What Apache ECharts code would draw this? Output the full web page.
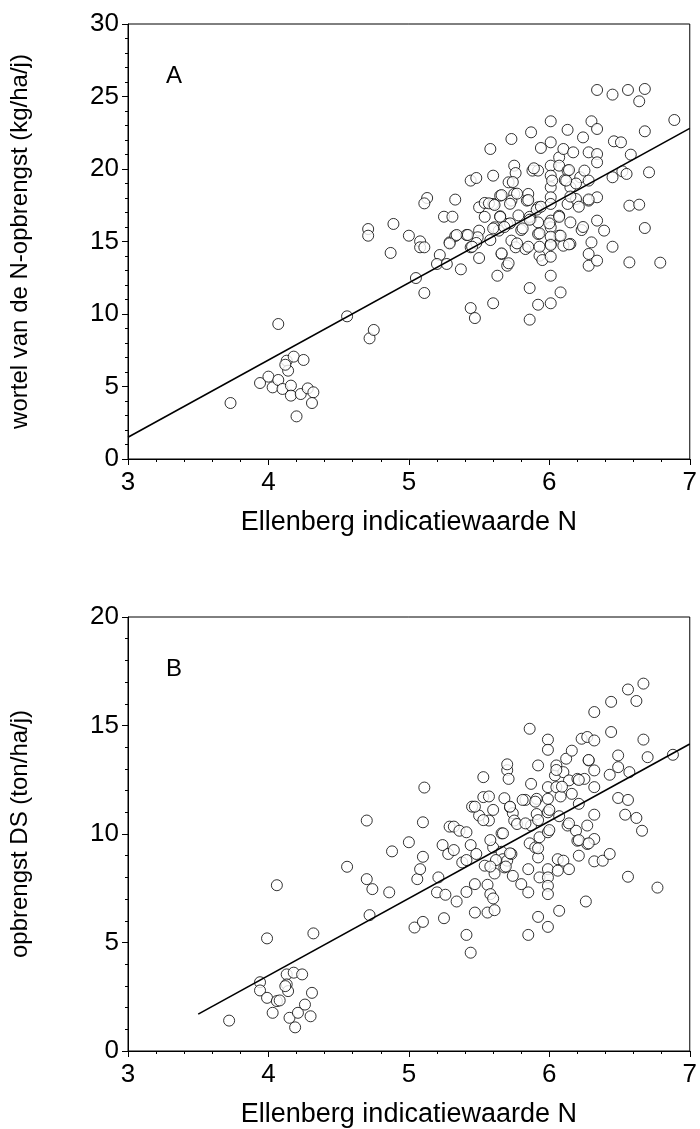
<!DOCTYPE html>
<html>
<head>
<meta charset="utf-8">
<script src="https://cdn.jsdelivr.net/npm/echarts@6/dist/echarts.min.js"></script>
<style>
html,body{margin:0;padding:0;background:#fff;}
#chart{width:700px;height:1129px;}
</style>
</head>
<body>
<div id="chart"></div>
<script>
// Panel A: Ellenberg N vs wortel van de N-opbrengst
const panelA_points = [
[3.73,3.86],[4.07,9.31],[3.94,5.24],[4.00,5.68],[4.03,4.94],[4.07,5.45],[4.10,4.83],[4.13,6.78],[4.14,6.09],[4.16,5.06],
[4.16,4.37],[4.18,7.06],[4.20,2.94],[4.23,4.48],[4.25,6.83],[4.28,4.87],[4.32,4.60],[4.31,3.86],[4.12,6.5],
[4.56,9.84],[4.72,8.32],[4.75,8.90],[4.71,15.86],[4.71,15.40],[4.89,16.21],[4.87,14.21],[5.00,15.40],[5.05,12.48],[5.11,11.45],
[5.08,15.01],[5.08,14.60],[5.11,14.60],[5.13,18.0],[5.11,17.63],[5.22,14.07],[5.20,13.45],[5.27,13.45],[5.25,16.71],[5.31,16.71],
[5.33,17.89],[5.29,14.94],[5.33,15.38],[5.37,13.08],[5.41,15.45],[5.44,14.60],[5.44,19.2],[5.48,19.38],[5.44,10.41],[5.47,9.72],
[5.50,17.36],[5.50,15.75],[5.50,13.86],[5.49,15.29],[5.54,17.66],[5.58,21.38],[5.60,19.54],[5.60,17.59],[5.60,10.74],[5.61,15.98],
[5.63,12.64],[5.64,15.75],[5.65,16.74],[5.65,18.16],[5.66,14.14],[5.70,13.33],[5.70,16.21],[5.71,19.08],[5.73,22.07],[5.75,20.23],
[5.76,19.72],[5.75,18.28],[5.73,17.82],[5.73,15.06],[5.76,14.60],[5.80,15.79],[5.83,14.48],[5.85,18.28],[5.84,17.82],[5.87,22.53],
[5.86,11.79],[5.86,9.61],[5.88,19.89],[5.92,19.89],[5.94,21.45],[5.92,17.36],[5.87,16.55],[5.92,16.32],[5.92,15.52],[5.93,14.02],
[5.92,10.64],[5.95,13.72],[6.01,23.29],[6.01,21.84],[6.01,20.23],[6.01,19.54],[6.01,18.74],[6.01,18.05],[6.01,17.59],[6.01,16.44],
[6.01,15.98],[6.01,14.83],[6.01,13.95],[6.01,12.64],[6.01,10.74],[6.07,20.80],[6.07,20.23],[6.07,16.78],[6.07,15.40],[6.08,11.49],
[6.11,19.24],[6.10,21.38],[6.13,19.89],[6.13,22.70],[6.13,17.59],[6.15,16.32],[6.15,18.74],[6.17,21.15],[6.15,14.83],[6.10,14.71],
[6.19,17.93],[6.22,19.43],[6.23,15.79],[6.24,22.18],[6.25,19.89],[6.28,21.15],[6.28,19.20],[6.28,17.82],[6.28,14.14],[6.28,13.33],
[6.30,23.29],[6.30,14.94],[6.34,25.45],[6.34,22.76],[6.34,21.03],[6.34,20.46],[6.34,18.05],[6.34,16.44],[6.34,13.68],[6.39,15.75],
[6.45,25.13],[6.45,19.43],[6.45,14.64],[6.46,21.91],[6.51,21.84],[6.52,19.84],[6.55,19.66],[6.58,20.99],[6.56,25.45],[6.57,17.47],
[6.57,13.56],[6.64,17.54],[6.64,24.67],[6.68,25.52],[6.68,22.60],[6.68,15.93],[6.71,19.77],[6.79,13.54],[6.89,23.38],
[5.57,17.63],[5.61,17.52],[5.54,16.7],[5.60,15.90],[5.65,16.7],[5.66,18.2],[5.72,17.6],[5.72,16.25],[5.77,18.3],[5.78,16.8],
[5.81,15.9],[5.85,17.86],[5.86,16.7],[5.91,17.2],[5.93,15.56],[5.93,14.64],[5.94,17.4],[6.00,16.25],[6.01,15.33],[6.01,14.76],
[6.07,16.7],[6.08,15.4],[6.14,19.93],[6.14,14.8],[6.15,18.1],[6.19,19.0],[6.21,17.4],[6.24,16.0],[6.28,17.9],[5.58,15.1],
[5.66,14.18],[5.71,13.5],[5.48,14.9],[5.42,15.45],[5.45,14.64],[5.77,14.87],[5.85,14.64],[5.34,15.45],[5.29,14.87],[5.74,19.1],
[5.89,20.05],[6.02,19.2],[6.12,19.2],[5.86,16.5],[5.68,16.0]
];
const panelA_fit = [[3.0,1.5],[7.0,22.8]];

// Panel B: Ellenberg N vs opbrengst DS
const panelB_points = [
[3.72,1.40],[3.94,3.17],[3.94,2.79],[3.99,5.19],[3.99,2.45],[4.03,1.76],[4.06,7.64],[4.06,2.30],[4.08,2.33],[4.13,3.53],
[4.13,3.07],[4.14,2.76],[4.12,2.99],[4.15,1.53],[4.18,3.61],[4.19,1.09],[4.21,1.76],[4.24,3.53],[4.26,2.14],[4.30,1.60],
[4.31,2.68],[4.32,5.42],[4.56,8.49],[4.70,10.62],[4.70,7.92],[4.74,7.46],[4.72,6.26],[4.86,7.31],[4.88,9.20],[5.00,9.62],
[5.04,5.69],[5.06,7.92],[5.08,8.38],[5.10,8.95],[5.10,10.54],[5.10,5.95],[5.11,12.14],[5.21,8.0],[5.20,7.31],[5.24,9.49],
[5.25,6.12],[5.26,7.2],[5.28,9.08],[5.29,10.34],[5.32,10.34],[5.32,9.26],[5.34,6.89],[5.36,10.15],[5.38,8.69],[5.41,8.80],
[5.41,7.33],[5.41,10.08],[5.44,9.49],[5.41,5.35],[5.44,4.53],[5.45,11.26],[5.47,7.69],[5.47,6.38],[5.48,9.08],[5.50,10.85],
[5.53,11.70],[5.53,12.62],[5.54,8.54],[5.56,7.66],[5.56,6.38],[5.57,11.73],[5.57,10.62],[5.58,7.23],[5.60,7.03],[5.61,8.18],
[5.60,9.38],[5.61,6.49],[5.66,9.18],[5.66,10.03],[5.67,8.84],[5.68,8.46],[5.70,8.77],[5.68,11.65],[5.70,12.94],[5.70,13.21],
[5.71,12.54],[5.72,11.23],[5.73,9.08],[5.74,8.07],[5.74,10.96],[5.75,10.62],[5.77,10.46],[5.80,7.69],[5.83,11.57],[5.85,7.31],
[5.85,8.38],[5.85,5.35],[5.86,14.85],[5.86,9.57],[5.87,10.39],[5.87,12.31],[5.90,9.38],[5.92,8.92],[5.92,6.18],[5.92,13.16],
[5.93,9.85],[5.93,8.00],[5.91,11.62],[5.91,10.92],[5.99,14.35],[5.99,13.88],[5.99,12.16],[5.99,11.62],[5.99,11.00],[5.99,10.08],
[5.99,8.38],[5.99,8.00],[5.99,7.61],[5.99,7.23],[5.99,5.72],[6.04,12.70],[6.05,13.16],[6.05,12.16],[6.06,8.84],[6.06,8.31],
[6.07,6.46],[6.07,10.82],[6.08,11.73],[6.10,8.77],[6.10,12.85],[6.12,13.47],[6.13,10.39],[6.14,8.38],[6.14,12.47],[6.16,13.84],
[6.16,11.85],[6.19,10.15],[6.20,12.54],[6.20,9.69],[6.21,11.39],[6.21,9.00],[6.23,14.39],[6.25,12.54],[6.26,6.89],[6.27,14.47],
[6.27,10.39],[6.27,9.54],[6.28,13.39],[6.32,15.62],[6.32,14.31],[6.32,12.93],[6.32,12.16],[6.32,10.89],[6.32,9.77],[6.32,8.74],
[6.38,8.77],[6.43,9.08],[6.43,12.73],[6.44,16.09],[6.44,14.70],[6.49,13.62],[6.49,13.08],[6.49,11.66],[6.54,10.89],[6.56,8.03],
[6.56,11.57],[6.56,16.66],[6.57,12.85],[6.62,16.13],[6.62,10.74],[6.66,10.15],[6.67,16.93],[6.67,14.35],[6.70,13.54],[6.77,7.53],
[6.88,13.65],
[5.60,11.11],[5.72,11.26],[5.81,11.57],[5.90,11.49],[6.00,11.11],[5.92,10.64],[5.83,10.49],[5.67,10.03],[5.58,9.72],[5.72,9.11],
[5.62,8.80],[5.58,8.50],[5.69,8.50],[5.92,9.34],[6.00,10.18],[6.14,10.49],[6.21,9.72],[6.28,9.57],[6.09,12.18],[6.21,12.49],
[6.28,13.41],[5.47,11.26],[5.53,10.64],[6.05,12.95]
];
const panelB_fit = [[3.5,1.7],[7.0,14.15]];

const xName = 'Ellenberg indicatiewaarde N';
const yNameA = 'wortel van de N-opbrengst (kg/ha/j)';
const yNameB = 'opbrengst DS (ton/ha/j)';

const FONT = '"Liberation Sans", Arial, Helvetica, sans-serif';
const black = '#000';

function xAxisFor(gi){
  return {
    gridIndex: gi, type: 'value', min: 3, max: 7, interval: 1,
    name: xName, nameLocation: 'middle', nameGap: 50,
    nameTextStyle: {fontFamily: FONT, fontSize: 27, color: black},
    axisLine: {show: true, onZero: false, lineStyle: {color: black, width: 1}},
    axisTick: {show: true, length: 6, inside: false, lineStyle: {color: black}},
    minorTick: {show: true, splitNumber: 5, length: 3, lineStyle: {color: black}},
    axisLabel: {fontFamily: FONT, fontSize: 26, color: black, margin: 11},
    splitLine: {show: false}
  };
}
function yAxisFor(gi, max, name){
  return {
    gridIndex: gi, type: 'value', min: 0, max: max, interval: 5,
    name: name, nameLocation: 'middle', nameGap: 96, nameRotate: 90,
    nameTextStyle: {fontFamily: FONT, fontSize: 24, color: black},
    axisLine: {show: true, onZero: false, lineStyle: {color: black, width: 1}},
    axisTick: {show: true, length: 6, inside: false, lineStyle: {color: black}},
    minorTick: {show: true, splitNumber: 5, length: 3, lineStyle: {color: black}},
    axisLabel: {fontFamily: FONT, fontSize: 26, color: black, margin: 9},
    splitLine: {show: false}
  };
}

const scatterStyle = {color: '#fff', borderColor: black, borderWidth: 1};

const chart = echarts.init(document.getElementById('chart'), null, {renderer: 'canvas'});
chart.setOption({
  backgroundColor: '#fff',
  animation: false,
  grid: [
    {left: 128, top: 24, width: 567, height: 435, show: true, borderColor: black, borderWidth: 1, backgroundColor: 'transparent'},
    {left: 128, top: 617, width: 567, height: 434, show: true, borderColor: black, borderWidth: 1, backgroundColor: 'transparent'}
  ],
  xAxis: [xAxisFor(0), xAxisFor(1)],
  yAxis: [yAxisFor(0, 30, yNameA), yAxisFor(1, 20, yNameB)],
  graphic: [
    {type: 'text', left: 166, top: 64, style: {text: 'A', font: '24px ' + FONT, fill: black}},
    {type: 'text', left: 166, top: 657, style: {text: 'B', font: '24px ' + FONT, fill: black}}
  ],
  series: [
    {type: 'scatter', xAxisIndex: 0, yAxisIndex: 0, data: panelA_points, symbol: 'circle', symbolSize: 11, itemStyle: scatterStyle, z: 2},
    {type: 'line', xAxisIndex: 0, yAxisIndex: 0, data: panelA_fit, symbol: 'none', lineStyle: {color: black, width: 1.6}, z: 3},
    {type: 'scatter', xAxisIndex: 1, yAxisIndex: 1, data: panelB_points, symbol: 'circle', symbolSize: 11, itemStyle: scatterStyle, z: 2},
    {type: 'line', xAxisIndex: 1, yAxisIndex: 1, data: panelB_fit, symbol: 'none', lineStyle: {color: black, width: 1.6}, z: 3}
  ]
});
</script>
</body>
</html>
